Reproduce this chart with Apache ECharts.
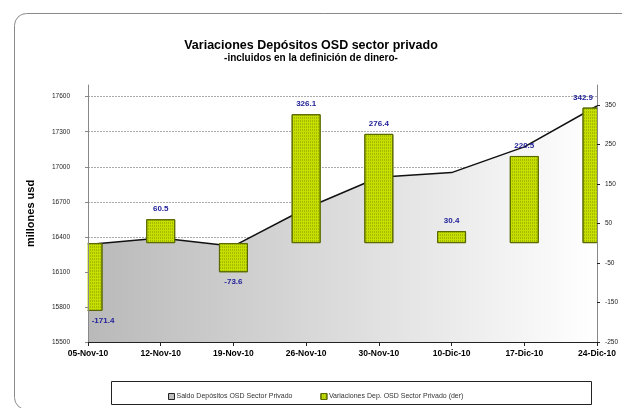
<!DOCTYPE html>
<html>
<head>
<meta charset="utf-8">
<script src="https://cdn.jsdelivr.net/npm/echarts@6/dist/echarts.min.js"></script>
<style>
  html, body { margin: 0; padding: 0; background: #fff; }
  #chart { width: 622px; height: 408px; }
</style>
</head>
<body>
<div id="chart"></div>
<script>
const dates = ['05-Nov-10', '12-Nov-10', '19-Nov-10', '26-Nov-10', '30-Nov-10', '10-Dic-10', '17-Dic-10', '24-Dic-10']
const saldo = [16335, 16390, 16320, 16645, 16910, 16950, 17170, 17520]
const variaciones = [-171.4, 60.5, -73.6, 326.1, 276.4, 30.4, 220.5, 342.9]

const saldoName = 'Saldo Depósitos OSD Sector Privado'
const varName = 'Variaciones Dep. OSD Sector Privado (der)'

const font = 'Liberation Sans, Arial, sans-serif'

// edge bars are half clipped, so their labels are nudged inward
const barData = variaciones.map((v, i) => {
  const item = {value: v}
  if (i === 0) item.label = {offset: [15, 0]}
  if (i === variaciones.length - 1) item.label = {offset: [-14, 0]}
  return item
})

const chart = echarts.init(document.getElementById('chart'))
chart.setOption({
  animation: false,
  textStyle: {fontFamily: font},
  title: {
    text: 'Variaciones Depósitos OSD sector privado',
    subtext: '-incluidos en la definición de dinero-',
    left: 'center',
    top: 34,
    itemGap: 1,
    textStyle: {fontSize: 12.5, fontWeight: 'bold', color: '#000', fontFamily: font},
    subtextStyle: {fontSize: 10, fontWeight: 'bold', color: '#000', fontFamily: font}
  },
  graphic: [
    {
      type: 'rect', left: 12, top: 11, z: -10,
      shape: {width: 640, height: 396, r: 12},
      style: {fill: 'none', stroke: '#8a8a8a', lineWidth: 1}
    },
    {
      type: 'rect', left: 111, top: 381, z: -5,
      shape: {width: 480, height: 23},
      style: {fill: '#fff', stroke: '#222', lineWidth: 1}
    },
    // bars on a boundaryGap:false axis are not clipped by echarts, mask the overflow
    {
      type: 'rect', left: 72, top: 80, z: 5,
      shape: {width: 15.5, height: 265},
      style: {fill: '#fff'}
    },
    {
      type: 'rect', left: 597.5, top: 80, z: 5,
      shape: {width: 20, height: 265},
      style: {fill: '#fff'}
    }
  ],
  legend: {
    left: 163,
    top: 388,
    itemWidth: 6,
    itemHeight: 6,
    itemGap: 28,
    textStyle: {fontSize: 7, color: '#333', fontFamily: font, padding: [0, 0, 0, -3]},
    data: [
      {name: saldoName, icon: 'rect', itemStyle: {color: '#bdbdbd', borderColor: '#222', borderWidth: 1}},
      {name: varName, icon: 'rect', itemStyle: {color: '#c6df00', borderColor: '#5a6a00', borderWidth: 1}}
    ]
  },
  grid: {left: 88, right: 25, top: 85, bottom: 66},
  xAxis: {
    type: 'category',
    data: dates,
    boundaryGap: false,
    z: 10,
    axisLine: {onZero: false, lineStyle: {color: '#222', width: 1}},
    axisTick: {show: true, length: 4, lineStyle: {color: '#222'}},
    axisLabel: {fontSize: 8.5, fontWeight: 'bold', color: '#000', margin: 7}
  },
  yAxis: [
    {
      type: 'value',
      min: 15500,
      max: 17700,
      interval: 300,
      z: 10,
      name: 'millones usd',
      nameLocation: 'middle',
      nameGap: 52,
      nameTextStyle: {fontSize: 11, fontWeight: 'bold', color: '#000'},
      axisLine: {show: true, lineStyle: {color: '#888', width: 1}},
      axisTick: {show: true, length: 3, lineStyle: {color: '#888'}},
      axisLabel: {fontSize: 6.5, color: '#222', margin: 18, showMaxLabel: false, formatter: v => String(v)},
      splitLine: {show: false}
    },
    {
      type: 'value',
      min: -250,
      max: 400,
      interval: 100,
      position: 'right',
      z: 10,
      axisLine: {show: true, lineStyle: {color: '#888', width: 1}},
      axisTick: {show: true, length: 3, lineStyle: {color: '#222'}},
      axisLabel: {fontSize: 6.5, color: '#222', margin: 8, showMaxLabel: false},
      splitLine: {show: false}
    },
    {
      // gridlines only, kept below the area fill
      type: 'value',
      min: 15500,
      max: 17700,
      interval: 300,
      position: 'left',
      z: 0,
      axisLine: {show: false},
      axisTick: {show: false},
      axisLabel: {show: false},
      splitLine: {show: true, showMaxLine: false, lineStyle: {color: '#aaa', type: [2, 1], width: 1}}
    }
  ],
  series: [
    {
      name: saldoName,
      type: 'line',
      yAxisIndex: 0,
      data: saldo,
      symbol: 'none',
      z: 1,
      lineStyle: {color: '#111', width: 1.5},
      itemStyle: {color: '#111'},
      areaStyle: {
        origin: 'start',
        opacity: 1,
        color: new echarts.graphic.LinearGradient(0, 0, 1, 0, [
          {offset: 0, color: '#b9b9b9'},
          {offset: 1, color: '#ffffff'}
        ])
      }
    },
    {
      name: varName,
      type: 'bar',
      yAxisIndex: 1,
      data: barData,
      barWidth: 29,
      z: 3,
      itemStyle: {
        color: '#c6df00',
        borderColor: '#5a6a00',
        borderWidth: 1,
        decal: {
          symbol: 'rect',
          symbolSize: 1,
          dashArrayX: [1, 1],
          dashArrayY: [2, 1],
          color: 'rgba(100,120,0,0.35)'
        }
      },
      label: {
        show: true,
        position: 'outside',
        distance: 6,
        fontSize: 8,
        fontWeight: 'bold',
        color: '#22229a',
        formatter: p => p.value.toFixed(1)
      }
    }
  ]
})
</script>
</body>
</html>
